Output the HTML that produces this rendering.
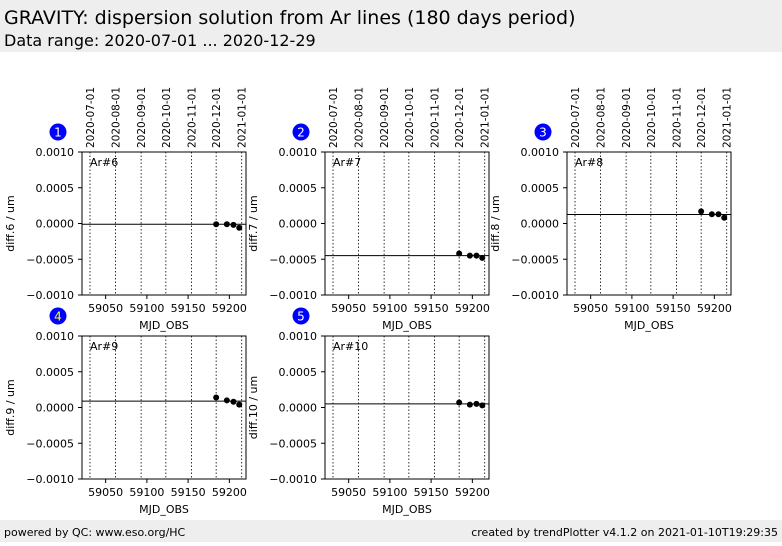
<!DOCTYPE html>
<html><head><meta charset="utf-8"><style>
body{margin:0;background:#fff;font-family:"DejaVu Sans","Liberation Sans",sans-serif;}
svg text{font-family:"DejaVu Sans","Liberation Sans",sans-serif;}
</style></head><body>
<svg id="chart" width="782" height="542" xmlns="http://www.w3.org/2000/svg">
<rect x="0" y="0" width="782" height="52" fill="#eeeeee"/>
<text x="4" y="24" font-size="19">GRAVITY: dispersion solution from Ar lines (180 days period)</text>
<text x="4" y="46" font-size="16">Data range: 2020-07-01 ... 2020-12-29</text>
<rect x="0" y="520" width="782" height="22" fill="#eeeeee"/>
<text x="4" y="536" font-size="11">powered by QC: www.eso.org/HC</text>
<text x="778" y="536" font-size="11" text-anchor="end">created by trendPlotter v4.1.2 on 2021-01-10T19:29:35</text>
<g id="panels"></g>
</svg>
<script>
const panelLabels=["Ar#6","Ar#7","Ar#8","Ar#9","Ar#10"];
const yLabels=["diff.6 / um","diff.7 / um","diff.8 / um","diff.9 / um","diff.10 / um"];
const pointMjd=[59184,59197,59205,59212];
const series1=[-0.00001,-0.00001,-0.00002,-0.00006];
const series2=[-0.00042,-0.00045,-0.00045,-0.00048];
const series3=[0.00017,0.00013,0.00013,0.00008];
const series4=[0.00014,0.0001,0.00008,0.00004];
const series5=[0.00007,0.00004,0.00005,0.00003];
const refLevels=[-0.00001,-0.00045,0.000126,0.00009,0.00005];
const xTicks=[59050,59100,59150,59200];
const yTicks=[-0.001,-0.0005,0,0.0005,0.001];
const dateMjd=[59031,59062,59093,59123,59154,59184,59215];
const dateLabels=["2020-07-01","2020-08-01","2020-09-01","2020-10-01","2020-11-01","2020-12-01","2021-01-01"];
const allSeries=[series1,series2,series3,series4,series5];
const NS="http://www.w3.org/2000/svg";
const g=document.getElementById("panels");
const origins=[[82,152],[325,152],[567,152],[82,336],[325,336]];
const W=164,H=143,xmin=59021.3,xmax=59220.2,ymin=-0.001,ymax=0.001;
function mk(t,a,p){const e=document.createElementNS(NS,t);for(const k in a)e.setAttribute(k,a[k]);(p||g).appendChild(e);return e;}
allSeries.forEach((s,i)=>{
 const [ox,oy]=origins[i];
 const X=v=>ox+(v-xmin)/(xmax-xmin)*W;
 const Y=v=>oy+H-(v-ymin)/(ymax-ymin)*H;
 const pg=mk("g",{});
 
 
 dateMjd.forEach((m,j)=>{
  const l=mk("line",{x1:X(m),x2:X(m),y1:oy,y2:oy+H,stroke:"#000","stroke-width":0.8,"stroke-dasharray":"1.5,2"},pg);
  
  
  if(i<3){
   const t=mk("text",{x:X(m)+4,y:oy-4,"font-size":10.5,transform:`rotate(-90 ${X(m)+4} ${oy-4})`},pg);
   
   
   t.textContent=dateLabels[j];
  }
 });
 const fr=mk("rect",{x:ox,y:oy,width:W,height:H,fill:"none",stroke:"#000","stroke-width":1},pg);
 
 
 xTicks.forEach(v=>{
  mk("line",{x1:X(v),x2:X(v),y1:oy+H,y2:oy+H+4,stroke:"#000"},pg);
  const t=mk("text",{x:X(v),y:oy+H+17,"font-size":11,"text-anchor":"middle"},pg);
  
  
  t.textContent=v;
 });
 yTicks.forEach(v=>{
  mk("line",{x1:ox-4,x2:ox,y1:Y(v),y2:Y(v),stroke:"#000"},pg);
  const t=mk("text",{x:ox-8,y:Y(v)+4,"font-size":11,"text-anchor":"end"},pg);
  
  
  t.textContent=(v<0?"\u2212":"")+Math.abs(v).toFixed(4);
 });
 const xt=mk("text",{x:ox+W/2,y:oy+H+34,"font-size":11,"text-anchor":"middle"},pg);
 
 
 xt.textContent="MJD_OBS";
 const yx=ox-68,yy=oy+H/2;
 const yt=mk("text",{x:yx,y:yy,"font-size":11,"text-anchor":"middle",transform:`rotate(-90 ${yx} ${yy})`},pg);
 
 
 yt.textContent=yLabels[i];
 const pl=mk("text",{x:ox+8,y:oy+14,"font-size":11},pg);
 
 
 pl.textContent=panelLabels[i];
 const rl=mk("line",{x1:ox,x2:ox+W,y1:Y(refLevels[i]),y2:Y(refLevels[i]),stroke:"#000","stroke-width":1},pg);
 
 
 s.forEach((v,j)=>{
  const c=mk("circle",{cx:X(pointMjd[j]),cy:Y(v),r:3,fill:"#000"},pg);
  
  
 });
 const bx=ox-24,by=oy-20;
 const bc=mk("circle",{cx:bx,cy:by,r:8.5,fill:"#0000ff"},pg);
 
 
 const bt=mk("text",{x:bx,y:by+4.5,"font-size":12,"text-anchor":"middle",fill:i==3?"#ffff00":"#fff"},pg);
 
 
 bt.textContent=i+1;
});
</script>
</body></html>
